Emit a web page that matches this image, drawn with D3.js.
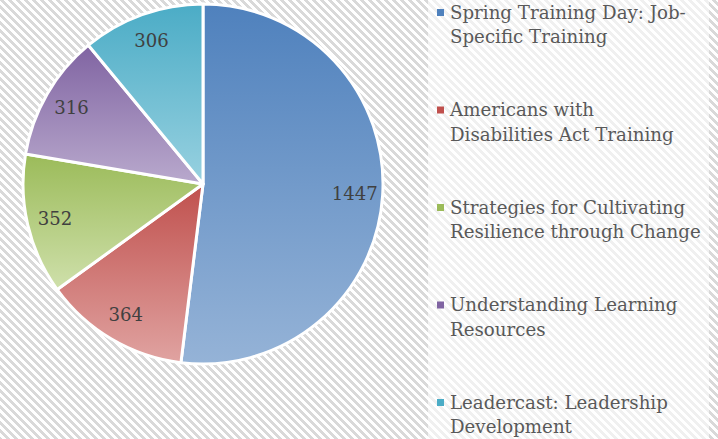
<!DOCTYPE html>
<html>
<head>
<meta charset="utf-8">
<script src="https://cdn.jsdelivr.net/npm/d3@7"></script>
<style>
  html, body { margin: 0; padding: 0; background: #ffffff; }
  svg { display: block; }
  .serif { font-family: Georgia, "DejaVu Serif", "Liberation Serif", "Times New Roman", serif; }
</style>
</head>
<body>
<svg id="chart" width="718" height="439"></svg>
<script>
// Training sessions and attendance counts
const categories = [
  "Spring Training Day: Job-Specific Training",
  "Americans with Disabilities Act Training",
  "Strategies for Cultivating Resilience through Change",
  "Understanding Learning Resources",
  "Leadercast: Leadership Development"
];
const values = [1447, 364, 352, 316, 306];
// Legend text, broken into the lines it is shown on
const legendLines = [
  ["Spring Training Day: Job-", "Specific Training"],
  ["Americans with", "Disabilities Act Training"],
  ["Strategies for Cultivating", "Resilience through Change"],
  ["Understanding Learning", "Resources"],
  ["Leadercast: Leadership", "Development"]
];
// Slice fills: darker shade at the top, lighter at the bottom
const topColors = ["#4f81bd", "#c0504d", "#9bbb59", "#8064a2", "#4bacc6"];
const bottomColors = ["#95b3d7", "#e0a3a1", "#cfe0ab", "#b9a9cd", "#98d1e0"];

const W = 718, H = 439;
const cx = 203, cy = 184, R = 180, labelR = 152;
const legendTextWidth = 251;   // widest legend line, in px
const valueTextWidth = 46;     // width of the largest value label, in px

const svg = d3.select("#chart");
const defs = svg.append("defs");

// 8x8 downward diagonal hatch used for the chart background
const hatch = defs.append("pattern")
  .attr("id", "hatch")
  .attr("patternUnits", "userSpaceOnUse")
  .attr("width", 8).attr("height", 8);
hatch.append("rect").attr("width", 8).attr("height", 8).attr("fill", "#ffffff");
d3.range(8).forEach(row => {
  d3.range(4).forEach(k => {
    hatch.append("rect")
      .attr("x", (row + k) % 8).attr("y", row)
      .attr("width", 1).attr("height", 1)
      .attr("fill", "#d9d9d9");
  });
});

svg.append("rect").attr("width", W).attr("height", H).attr("fill", "url(#hatch)");

// Legend panel washes the hatch out
svg.append("rect")
  .attr("x", 428).attr("y", 0)
  .attr("width", 281).attr("height", H)
  .attr("fill", "#ffffff").attr("fill-opacity", 0.6);

// Vertical gradients, one per slice
const color = d3.scaleOrdinal().domain(categories).range(topColors);
const colorLight = d3.scaleOrdinal().domain(categories).range(bottomColors);
categories.forEach((c, i) => {
  const g = defs.append("linearGradient")
    .attr("id", "grad" + i)
    .attr("x1", 0).attr("y1", 0).attr("x2", 0).attr("y2", 1);
  g.append("stop").attr("offset", "0%").attr("stop-color", color(c));
  g.append("stop").attr("offset", "100%").attr("stop-color", colorLight(c));
});

// Font size that makes a string span a given width in the serif face
function fitSize(str, width) {
  const probe = svg.append("text").attr("class", "serif").attr("font-size", 20).text(str);
  const w = probe.node().getComputedTextLength();
  probe.remove();
  return 20 * width / w;
}
const legendSize = fitSize("Resilience through Change", legendTextWidth);
const valueSize = fitSize(String(d3.max(values)), valueTextWidth);

const pie = d3.pie().sort(null).value(d => d.value);
const data = categories.map((c, i) => ({ name: c, value: values[i], idx: i }));
const arcs = pie(data);

const arc = d3.arc().innerRadius(0).outerRadius(R);
const labelArc = d3.arc().innerRadius(labelR).outerRadius(labelR);

const g = svg.append("g").attr("transform", `translate(${cx},${cy})`);

g.selectAll("path.slice")
  .data(arcs)
  .join("path")
  .attr("class", "slice")
  .attr("d", arc)
  .attr("fill", d => `url(#grad${d.data.idx})`)
  .attr("stroke", "#ffffff")
  .attr("stroke-width", 3)
  .attr("stroke-linejoin", "round");

g.selectAll("text.value")
  .data(arcs)
  .join("text")
  .attr("class", "value serif")
  .attr("transform", d => `translate(${labelArc.centroid(d)})`)
  .attr("text-anchor", "middle")
  .attr("dy", "0.35em")
  .attr("font-size", valueSize)
  .attr("fill", "#404040")
  .text(d => d.data.value);

// Legend
const legendY = d3.scalePoint().domain(categories).range([18.5, 408.5]);
const legend = svg.append("g").attr("class", "legend");
const items = legend.selectAll("g.item")
  .data(categories)
  .join("g")
  .attr("class", "item")
  .attr("transform", d => `translate(0,${legendY(d)})`);

items.append("rect")
  .attr("x", 437).attr("y", -9.5)
  .attr("width", 7).attr("height", 7)
  .attr("fill", d => color(d));

items.append("text")
  .attr("class", "serif")
  .attr("x", 450)
  .attr("font-size", legendSize)
  .attr("fill", "#595959")
  .selectAll("tspan")
  .data(d => legendLines[categories.indexOf(d)])
  .join("tspan")
  .attr("x", 450)
  .attr("dy", (d, j) => j === 0 ? 0 : 24.5)
  .text(d => d);
</script>
</body>
</html>
